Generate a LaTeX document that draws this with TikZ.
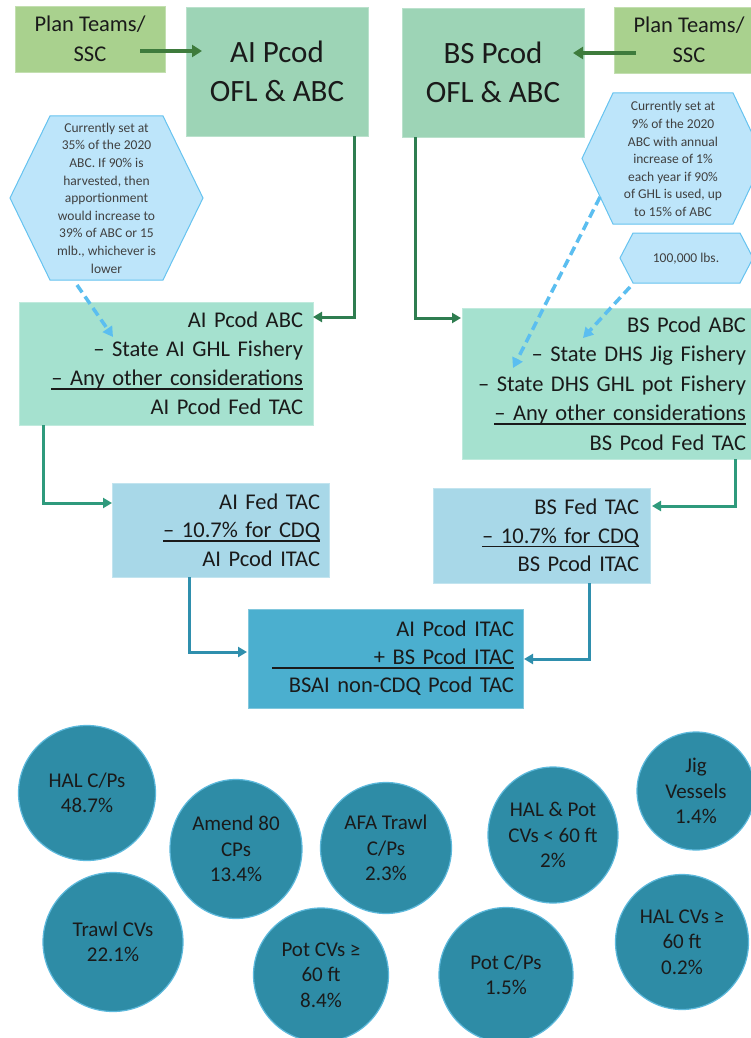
\documentclass[tikz,border=0pt]{standalone}
\usepackage{fontspec}
\setmainfont{Carlito}
\usetikzlibrary{arrows.meta,shapes.geometric,calc}
\definecolor{planC}{HTML}{A9D18E}
\definecolor{oflC}{HTML}{9DD4B6}
\definecolor{abcC}{HTML}{A5E1CF}
\definecolor{fedC}{HTML}{A8D8E8}
\definecolor{ctrC}{HTML}{4BAFCF}
\definecolor{circC}{HTML}{2E8CA6}
\definecolor{circB}{HTML}{5DB9DC}
\definecolor{hexF}{HTML}{BDE5FA}
\definecolor{hexB}{HTML}{66C3F0}
\definecolor{dashC}{HTML}{5BBEF0}
\definecolor{gA}{HTML}{3E7B3C}
\definecolor{gB}{HTML}{2F7D50}
\definecolor{gC}{HTML}{2F9A7C}
\definecolor{bA}{HTML}{2F8FAD}
\definecolor{bB}{HTML}{1F6D98}
\definecolor{txt}{HTML}{1A1A1A}
\definecolor{hextxt}{HTML}{404040}
\newlength\myulw
\newcommand\myul[1]{\leavevmode\settowidth\myulw{#1}\rlap{\rule[-4pt]{\myulw}{1.5pt}}#1}
\begin{document}
\begin{tikzpicture}[x=1pt,y=-1pt,
  boxn/.style={rectangle, anchor=north west, inner ysep=0pt, inner xsep=10pt, outer sep=0pt, align=right, fill=#1, draw=#1!70!white, line width=0.6pt, text=txt},
  cbox/.style={rectangle, anchor=north west, inner sep=0pt, outer sep=0pt, align=center, fill=#1, draw=#1!70!white, line width=0.6pt, text=txt},
  circ/.style={ellipse, inner sep=0pt, outer sep=0pt, align=center, fill=circC, draw=circB, line width=1.2pt, text=txt, font=\fontsize{21}{25.5}\selectfont},
  hexshape/.style={fill=hexF, draw=hexB, line width=1pt},
  hextext/.style={align=center, inner sep=0pt, text=hextxt, font=\fontsize{13.5}{17.6}\selectfont},
  topar/.style={line width=4pt, color=gA, -{Triangle[length=10pt,width=12pt]}},
  gar/.style={line width=3pt, color=#1, -{Triangle[length=9pt,width=10pt]}},
  dar/.style={line width=3.5pt, color=dashC, dash pattern=on 9pt off 5pt, -{Triangle[length=10pt,width=11pt]}},
  fan/.style={line width=1.6pt, color=bB, -{Stealth[length=7pt,width=7pt]}}
]
\useasboundingbox (0,0) rectangle (751,1038);
\clip (0,0) rectangle (751,1038);
\fill[white] (0,0) rectangle (751,1038);

% top boxes
\node[cbox=planC, minimum width=150pt, minimum height=66pt, font=\fontsize{22.5}{30}\selectfont] (PL) at (15,6) {Plan Teams/\\SSC};
\node[cbox=oflC, minimum width=182pt, minimum height=129pt, font=\fontsize{31}{39}\selectfont] (AIofl) at (186,7) {AI Pcod\\OFL \& ABC};
\node[cbox=oflC, minimum width=182pt, minimum height=129pt, font=\fontsize{31}{39}\selectfont] (BSofl) at (402,8) {BS Pcod\\OFL \& ABC};
\node[cbox=planC, minimum width=150pt, minimum height=66pt, font=\fontsize{22.5}{30}\selectfont] (PR) at (614,7) {Plan Teams/\\SSC};

% hexagons
\draw[hexshape] (10,198) -- (50,116) -- (163,116) -- (203,198) -- (163,280) -- (50,280) -- cycle;
\node[hextext] (hexA) at (106.5,198) {Currently set at\\35\% of the 2020\\ABC. If 90\% is\\harvested, then\\apportionment\\would increase to\\39\% of ABC or 15\\mlb., whichever is\\lower};
\draw[hexshape] (582,158.5) -- (613,93) -- (733,93) -- (764,158.5) -- (733,224) -- (613,224) -- cycle;
\node[hextext] (hexB) at (673,159) {Currently set at\\9\% of the 2020\\ABC with annual\\increase of 1\%\\each year if 90\%\\of GHL is used, up\\to 15\% of ABC};
\draw[hexshape] (620,258) -- (633,233) -- (740,233) -- (753,258) -- (740,283) -- (633,283) -- cycle;
\node[hextext] (hexC) at (686,259) {100,000 lbs.};

% ABC boxes
\node[boxn=abcC, minimum width=294pt, minimum height=123pt, text width=274pt, inner xsep=10pt, font=\fontsize{22.5}{29}\selectfont] (AIabc) at (19,302) {AI Pcod ABC\\ – State AI GHL Fishery\\ \myul{– Any other considerations}\\ AI Pcod Fed TAC};
\node[boxn=abcC, minimum width=292pt, minimum height=151pt, text width=276pt, inner xsep=8pt, font=\fontsize{22.5}{29.5}\selectfont] (BSabc) at (462,308) {BS Pcod ABC\\ – State DHS Jig Fishery\\ – State DHS GHL pot Fishery\\ \myul{– Any other considerations}\\ BS Pcod Fed TAC};

% Fed TAC boxes
\node[boxn=fedC, minimum width=217pt, minimum height=94pt, text width=199pt, inner xsep=9pt, font=\fontsize{22.5}{28.5}\selectfont] (AIfed) at (112,483) {AI Fed TAC\\ \myul{– 10.7\% for CDQ}\\ AI Pcod ITAC};
\node[boxn=fedC, minimum width=217pt, minimum height=95pt, text width=195pt, inner xsep=11pt, font=\fontsize{22.5}{28.5}\selectfont] (BSfed) at (433,488) {BS Fed TAC\\ \myul{– 10.7\% for CDQ}\\ BS Pcod ITAC};

% center box
\node[boxn=ctrC, minimum width=275pt, minimum height=99pt, text width=257pt, inner xsep=9pt, font=\fontsize{22.5}{28}\selectfont] (CTR) at (248,609) {AI Pcod ITAC\\ + BS Pcod ITAC\llap{\rule[-4pt]{242pt}{1.5pt}}\\ BSAI non-CDQ Pcod TAC};

% circles
\node[circ, minimum width=137pt, minimum height=135pt] (c1) at (87,793) {HAL C/Ps\\48.7\%};
\node[circ, minimum width=140pt, minimum height=139pt] (c2) at (113,942) {Trawl CVs\\22.1\%};
\node[circ, minimum width=132pt, minimum height=139pt] (c3) at (236,849) {Amend 80\\CPs\\13.4\%};
\node[circ, minimum width=135pt, minimum height=134pt] (c4) at (321,975) {Pot CVs ≥\\60 ft\\8.4\%};
\node[circ, minimum width=131pt, minimum height=131pt] (c5) at (386,848) {AFA Trawl\\C/Ps\\2.3\%};
\node[circ, minimum width=134pt, minimum height=135pt] (c6) at (506,975) {Pot C/Ps\\1.5\%};
\node[circ, minimum width=130pt, minimum height=136pt] (c7) at (553,835) {HAL \& Pot\\CVs < 60 ft\\2\%};
\node[circ, minimum width=118pt, minimum height=118pt] (c8) at (696,791) {Jig\\Vessels\\1.4\%};
\node[circ, minimum width=133pt, minimum height=135pt] (c9) at (682,942) {HAL CVs ≥\\60 ft\\0.2\%};

% top arrows
\draw[topar] ($(PL.east)+(-25,12)$) -- ($(AIofl.west)+(16,-20.5)$);
\draw[topar] ($(PR.west)+(22,13)$) -- ($(BSofl.east)+(-11,-19.5)$);

% green arrows
\draw[gar=gB] ($(AIofl.south east)+(-14,0)$) |- ($(AIabc.north east)+(0,15)$);
\draw[gar=gB] ($(BSofl.south west)+(13,0)$) |- ($(BSabc.north west)+(-1,10)$);
\draw[gar=gC] ($(AIabc.south west)+(24,0)$) |- ($(AIfed.north west)+(0,20)$);
\draw[gar=gC] ($(BSabc.south east)+(-19,0)$) |- ($(BSfed.north east)+(2,18)$);
\draw[gar=bA] ($(AIfed.south west)+(77,0)$) |- ($(CTR.north west)+(-1,43)$);
\draw[gar=bA] ($(BSfed.south west)+(156,0)$) |- ($(CTR.north east)+(1,50)$);

% dashed arrows
\coordinate (dA1) at (77,285);
\coordinate (dA2) at (113,337);
\coordinate (dB1) at (600,197);
\coordinate (dB2) at (513,368);
\coordinate (dC1) at (630,287);
\coordinate (dC2) at (583,338);
\draw[dar] (dA1) -- (dA2);
\draw[dar] (dB1) -- (dB2);
\draw[dar] (dC1) -- (dC2);

% fan
\coordinate (fo) at ($(CTR.south)+(-2,0)$);
\foreach \p [count=\i] in {(205,733),(278,739),(288,778),(353,752),(410,763),(472,792),(507,770),(487,733),(640,738)} {
  \coordinate (f\i) at \p;
  \draw[fan] (fo) -- (f\i);
}
\end{tikzpicture}
\end{document}
